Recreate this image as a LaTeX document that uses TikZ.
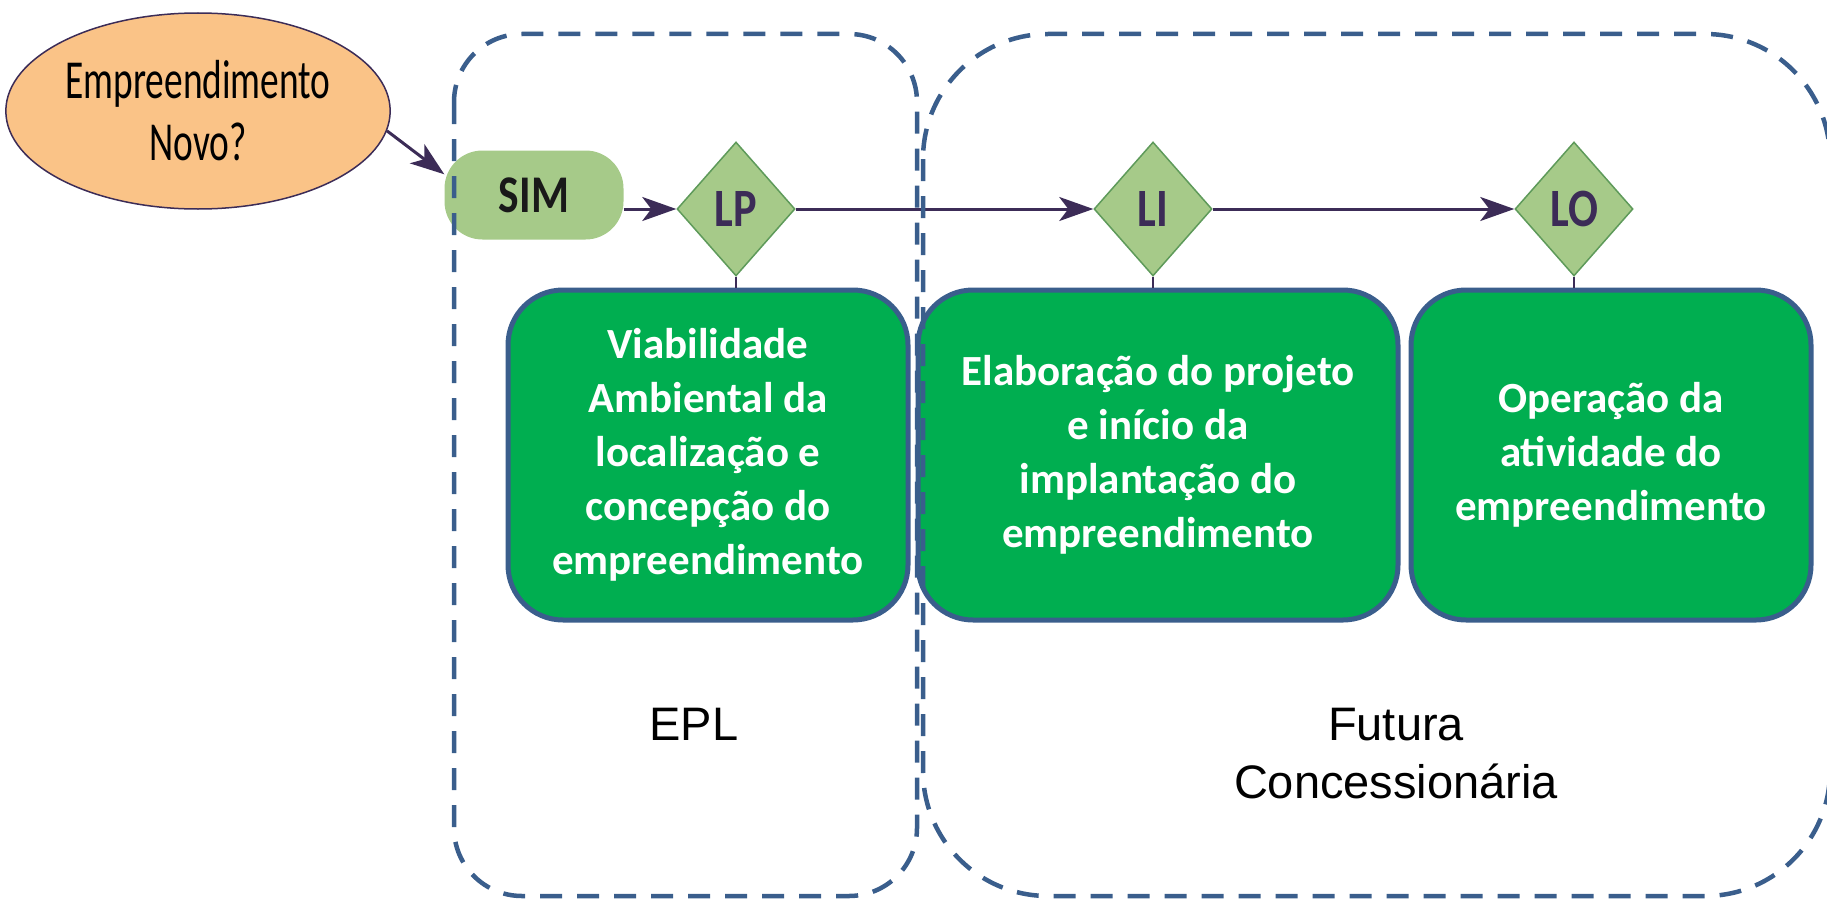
\documentclass[tikz,border=0pt]{standalone}
\usepackage{fontspec}
\setmainfont{Liberation Sans}
\newfontfamily\boxfont{Carlito}
\newfontfamily\narrowfont[FakeStretch=0.68]{Carlito}
\newfontfamily\tagfont[FakeStretch=0.82]{Carlito}
\usetikzlibrary{arrows.meta,shapes.geometric,positioning}

\definecolor{dashblue}{HTML}{3A5E8C}
\definecolor{boxgreen}{HTML}{00AE50}
\definecolor{lightgreen}{HTML}{A6CA89}
\definecolor{darkgreen}{HTML}{5E9A5A}
\definecolor{ellorange}{HTML}{FAC387}
\definecolor{arrowpurple}{HTML}{3C2C57}

\tikzset{
  phase/.style={draw=dashblue, line width=4.5pt, dash pattern=on 22pt off 15pt},
  flow/.style={draw=arrowpurple, line width=3pt, -{Stealth[length=34pt, width=24pt, inset=9pt]}},
  stem/.style={draw=arrowpurple, line width=1.8pt},
  licence/.style={diamond, draw=darkgreen, line width=1.5pt, fill=lightgreen,
    minimum width=118pt, minimum height=134pt, inner sep=0pt, text=arrowpurple,
    font=\tagfont\bfseries\fontsize{54}{54}\selectfont},
  stage/.style={rectangle, rounded corners=55pt, draw=dashblue, line width=5pt,
    fill=boxgreen, minimum height=330pt, text=white, align=center,
    font=\boxfont\bfseries\fontsize{43}{54}\selectfont},
  owner/.style={draw=none, align=center, font=\fontsize{47}{58}\selectfont}
}

\begin{document}
\begin{tikzpicture}[x=1pt, y=-1pt]

\useasboundingbox (0,0) rectangle (1827,899);

\node [ellipse, draw=arrowpurple, line width=1.5pt, fill=ellorange,
  minimum width=368pt, minimum height=196pt, align=center,
  font=\narrowfont\fontsize{55}{62}\selectfont] (novo) at (198,111) {Empreendimento\\Novo?};

\node [rectangle, rounded corners=38pt, fill=lightgreen, minimum width=179pt,
  minimum height=89pt, text=black!90, font=\tagfont\bfseries\fontsize{53}{53}\selectfont] (sim) at (534,195) {SIM};

\node [licence] (lp) at (736,209) {LP};
\node [licence] (li) at (1153,209) {LI};
\node [licence] (lo) at (1574,209) {LO};

\node [stage, minimum width=400pt] (viab) at (708,455) {Viabilidade\\Ambiental da\\localização e\\concepção do\\empreendimento};
\node [stage, minimum width=480pt] (elab) at (1158,455) {Elaboração do projeto\\e início da\\implantação do\\empreendimento};
\node [stage, minimum width=400pt] (oper) at (1611,455) {Operação da\\atividade do\\empreendimento};

\draw[flow] (novo.-6) -- (sim.167);
\draw[flow] (sim.east |- lp) -- (lp);
\draw[flow] (lp) -- (li);
\draw[flow] (li) -- (lo);

\foreach \Lic/\Box in {lp/viab, li/elab, lo/oper}{
    \draw[stem] (\Lic.south) -- (\Lic.south |- \Box.north);
}

\draw[phase, rounded corners=68pt] (454,34) rectangle (917,896); % EPL
\draw[phase, rounded corners=125pt] (923,34) rectangle (1830,896); % Concessionaria

\node [owner] (epl) at (694,724) {EPL};
\node [owner] (futura) at (1396,754) {Futura\\Concessionária};

\end{tikzpicture}
\end{document}
